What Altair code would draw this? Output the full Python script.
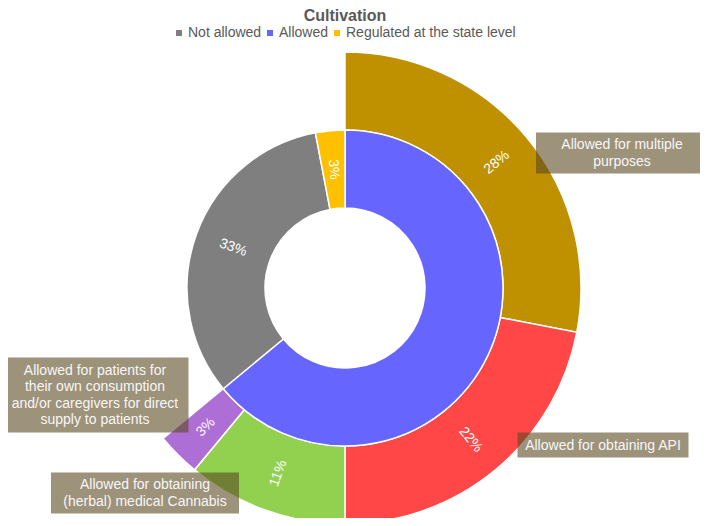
import math
import altair as alt
import pandas as pd

# ---------------- data ----------------
inner_categories = ["Allowed", "Not allowed", "Regulated at the state level"]
inner_values = [64, 33, 3]

outer_categories = [
    "Allowed for multiple purposes",
    "Allowed for obtaining API",
    "Allowed for obtaining (herbal) medical Cannabis",
    "Allowed for patients for their own consumption and/or caregivers for direct supply to patients",
]
outer_values = [28, 22, 11, 3]

outer_label_lines = [
    "Allowed for multiple\npurposes",
    "Allowed for obtaining API",
    "Allowed for obtaining\n(herbal) medical Cannabis",
    "Allowed for patients for\ntheir own consumption\nand/or caregivers for direct\nsupply to patients",
]

legend_order = ["Not allowed", "Allowed", "Regulated at the state level"]

# ---------------- styles / layout ----------------
inner_colors = {"Not allowed": "#7f7f7f", "Allowed": "#6666ff",
                "Regulated at the state level": "#ffc000"}
outer_colors = ["#bf9000", "#ff4747", "#92d050", "#ad6fd6"]
FONT = "Liberation Sans"
CX, CY = 337, 232          # pie centre inside the plot area
R_HOLE, R_MID, R_OUT = 80, 158, 236
LH = 16.5
# label boxes: offset of box centre from pie centre, box width, box height
box_layout = [(277, -135, 172, 41), (258, 157, 171, 25),
              (-200, 205, 188, 41), (-250, 107, 187, 75)]


def build(cats, vals):
    rows, acc = [], 0
    for c, v in zip(cats, vals):
        mid = (acc + v / 2) * 3.6
        rot = mid - 90
        if rot > 90:
            rot -= 180
        if rot < -90:
            rot += 180
        rows.append(dict(cat=c, value=v, start=acc, end=acc + v, mid=acc + v / 2,
                         rot=rot % 360, pct=f"{v}%"))
        acc += v
    return pd.DataFrame(rows)


inner_df = build(inner_categories, inner_values)
outer_df = build(outer_categories, outer_values)
inner_lbl = inner_df[inner_df["cat"] != "Allowed"]

box_rows = []
for txt, (dx, dy, w, h) in zip(outer_label_lines, box_layout):
    n = txt.count("\n") + 1
    box_rows.append(dict(text=txt, x=CX + dx, y=CY + dy - (n - 1) * LH / 2 + 0.5,
                         x1=CX + dx - w / 2, x2=CX + dx + w / 2,
                         y1=CY + dy - h / 2, y2=CY + dy + h / 2))
box_df = pd.DataFrame(box_rows)

theta_scale = alt.Scale(domain=[0, 100], range=[0, 2 * math.pi])

inner_arc = alt.Chart(inner_df).mark_arc(
    radius=R_MID, radius2=R_HOLE, stroke="white", strokeWidth=1.5
).encode(
    theta=alt.Theta("start:Q", scale=theta_scale),
    theta2="end:Q",
    x=alt.value(CX), y=alt.value(CY),
    color=alt.Color("cat:N",
                    scale=alt.Scale(domain=legend_order,
                                    range=[inner_colors[c] for c in legend_order]),
                    legend=alt.Legend(title=None, orient="none", direction="horizontal",
                                      legendX=164, legendY=-30,
                                      symbolType="square", symbolSize=36,
                                      symbolStrokeWidth=0,
                                      labelFont=FONT, labelFontSize=14,
                                      labelColor="#595959", labelOffset=2,
                                      labelLimit=400,
                                      columnPadding=1, padding=0)),
)

outer_arc = alt.Chart(outer_df).mark_arc(
    radius=R_OUT, radius2=R_MID, stroke="white", strokeWidth=1.5
).encode(
    theta=alt.Theta("start:Q", scale=theta_scale),
    theta2="end:Q",
    x=alt.value(CX), y=alt.value(CY),
    fill=alt.Fill("cat:N", scale=alt.Scale(domain=outer_categories, range=outer_colors),
                  legend=None),
)

inner_text = alt.Chart(inner_lbl).mark_text(
    radius=(R_HOLE + R_MID) / 2, font=FONT, fontSize=14, color="white"
).encode(
    theta=alt.Theta("mid:Q", scale=theta_scale),
    x=alt.value(CX), y=alt.value(CY),
    angle=alt.Angle("rot:Q", scale=None),
    text="pct:N",
)

outer_text = alt.Chart(outer_df).mark_text(
    radius=(R_MID + R_OUT) / 2, font=FONT, fontSize=14, color="white"
).encode(
    theta=alt.Theta("mid:Q", scale=theta_scale),
    x=alt.value(CX), y=alt.value(CY),
    angle=alt.Angle("rot:Q", scale=None),
    text="pct:N",
)

boxes = alt.Chart(box_df).mark_rect(color="#5c4a22", opacity=0.6).encode(
    x=alt.X("x1:Q", scale=None), x2="x2:Q",
    y=alt.Y("y1:Q", scale=None), y2="y2:Q",
)

box_text = alt.Chart(box_df).mark_text(
    font=FONT, fontSize=14, color="#f7f7f7", lineBreak="\n", lineHeight=LH,
    baseline="middle", align="center"
).encode(
    x=alt.X("x:Q", scale=None), y=alt.Y("y:Q", scale=None), text="text:N",
)

chart = alt.layer(outer_arc, inner_arc, inner_text, outer_text, boxes, box_text).resolve_scale(
    color="independent", fill="independent"
).properties(
    width=692, height=462,
    title=alt.TitleParams("Cultivation", font=FONT, fontSize=16, fontWeight="bold",
                          color="#595959", anchor="middle", dx=-9, dy=2, frame="group"),
    autosize=alt.AutoSizeParams(type="none"),
    padding={"left": 0, "top": 48, "right": 0, "bottom": 0},
).configure_view(stroke=None)

chart.save("out.html", embed_options={"renderer": "svg", "actions": False})
